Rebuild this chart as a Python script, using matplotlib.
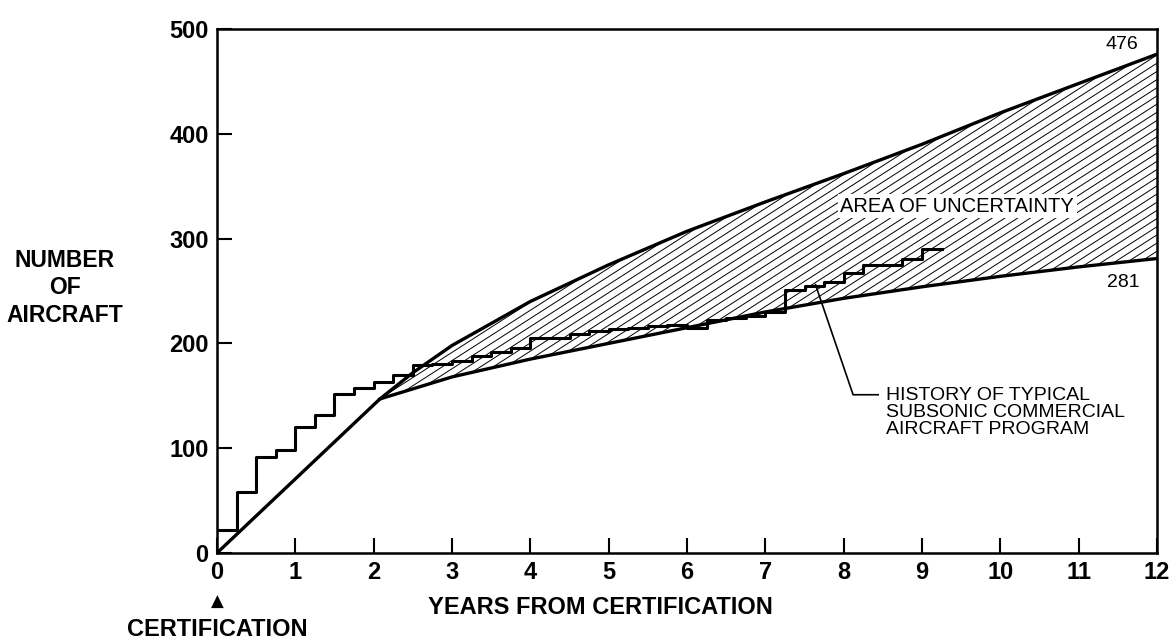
import numpy as np
import matplotlib
matplotlib.use('Agg')
import matplotlib.pyplot as plt

plt.rcParams['font.family'] = ['Liberation Sans', 'DejaVu Sans']

# history of a typical subsonic program (quarterly deliveries, cumulative)
hist_x = [0, 0.25, 0.5, 0.75, 1.0, 1.25, 1.5, 1.75, 2.0, 2.25, 2.5, 2.75, 3.0, 3.25,
          3.5, 3.75, 4.0, 4.25, 4.5, 4.75, 5.0, 5.25, 5.5, 5.75, 6.0, 6.25, 6.5, 6.75,
          7.0, 7.25, 7.5, 7.75, 8.0, 8.25, 8.5, 8.75, 9.0, 9.25]
hist_y = [22, 58, 92, 98, 120, 132, 152, 157, 163, 170, 179, 180, 183, 188,
          192, 196, 205, 205, 209, 212, 214, 215, 217, 218, 215, 222, 224, 226,
          230, 251, 255, 259, 267, 275, 275, 281, 290, 290]

# bounds of the forecast band
low_x = [0, 2.08, 3, 4, 5, 6, 7, 8, 9, 10, 11, 12]
low_y = [0, 147, 168, 185, 200, 215, 230, 243, 254, 264, 273, 281]
up_x = [2.08, 2.5, 3, 4, 5, 6, 7, 8, 9, 10, 11, 12]
up_y = [147, 172, 198, 240, 275, 307, 335, 362, 390, 420, 448, 476]

fig = plt.figure(figsize=(11.71, 6.43), dpi=100)
ax = fig.add_axes([0.1853, 0.14, 0.8028, 0.8149])
ax.set_xlim(0, 12)
ax.set_ylim(0, 500)

# hatched band, drawn as thin slanted lines clipped to the band
xs = np.linspace(2.08, 12, 200)
band_lo = np.interp(xs, low_x, low_y)
band_hi = np.interp(xs, up_x, up_y)
poly = ax.fill_between(xs, band_lo, band_hi, facecolor='none', edgecolor='none')
clip = poly.get_paths()[0]
slope = 48.0
for c in np.arange(-600, 500, 7.8):
    hx = np.array([0, 12])
    ln, = ax.plot(hx, slope * hx + c, color='black', lw=0.7, zorder=2)
    ln.set_clip_path(clip, ax.transData)

ax.plot(low_x, low_y, color='black', lw=2.4, zorder=4)
ax.plot(up_x, up_y, color='black', lw=2.4, zorder=4)
ax.step(hist_x, hist_y, where='post', color='black', lw=2.2, zorder=5)

ax.text(9.45, 331, 'AREA OF UNCERTAINTY', fontsize=14.5, ha='center', va='center',
        bbox=dict(facecolor='white', edgecolor='none', pad=2), zorder=6)
ax.text(11.76, 485, '476', fontsize=14, ha='right', va='center')
ax.text(11.78, 258, '281', fontsize=14, ha='right', va='center')

# leader to the history line
ax.plot([8.44, 8.12, 7.64], [151, 151, 256], color='black', lw=1.2, zorder=6)
ax.text(8.54, 158, 'HISTORY OF TYPICAL\nSUBSONIC COMMERCIAL\nAIRCRAFT PROGRAM',
        fontsize=14, ha='left', va='top', linespacing=1.0)

ax.set_xticks(range(0, 13))
ax.set_yticks(range(0, 501, 100))
ax.tick_params(direction='in', length=11, width=1.5, labelsize=17, pad=6)
for lab in ax.get_xticklabels() + ax.get_yticklabels():
    lab.set_fontweight('bold')
for s in ax.spines.values():
    s.set_linewidth(1.8)

fig.text(65 / 1171, 1 - 288 / 643, 'NUMBER\nOF\nAIRCRAFT', fontsize=16.5,
         fontweight='bold', ha='center', va='center', linespacing=1.25)
fig.text(600 / 1171, 1 - 607 / 643, 'YEARS FROM CERTIFICATION', fontsize=17,
         fontweight='bold', ha='center', va='center')
fig.text(217 / 1171, 1 - 602 / 643, '\u25b2', fontsize=12, ha='center',
         va='center', family=['DejaVu Sans'])
fig.text(217 / 1171, 1 - 630 / 643, 'CERTIFICATION', fontsize=17,
         fontweight='bold', ha='center', va='center')

fig.savefig('out.png', dpi=100)
